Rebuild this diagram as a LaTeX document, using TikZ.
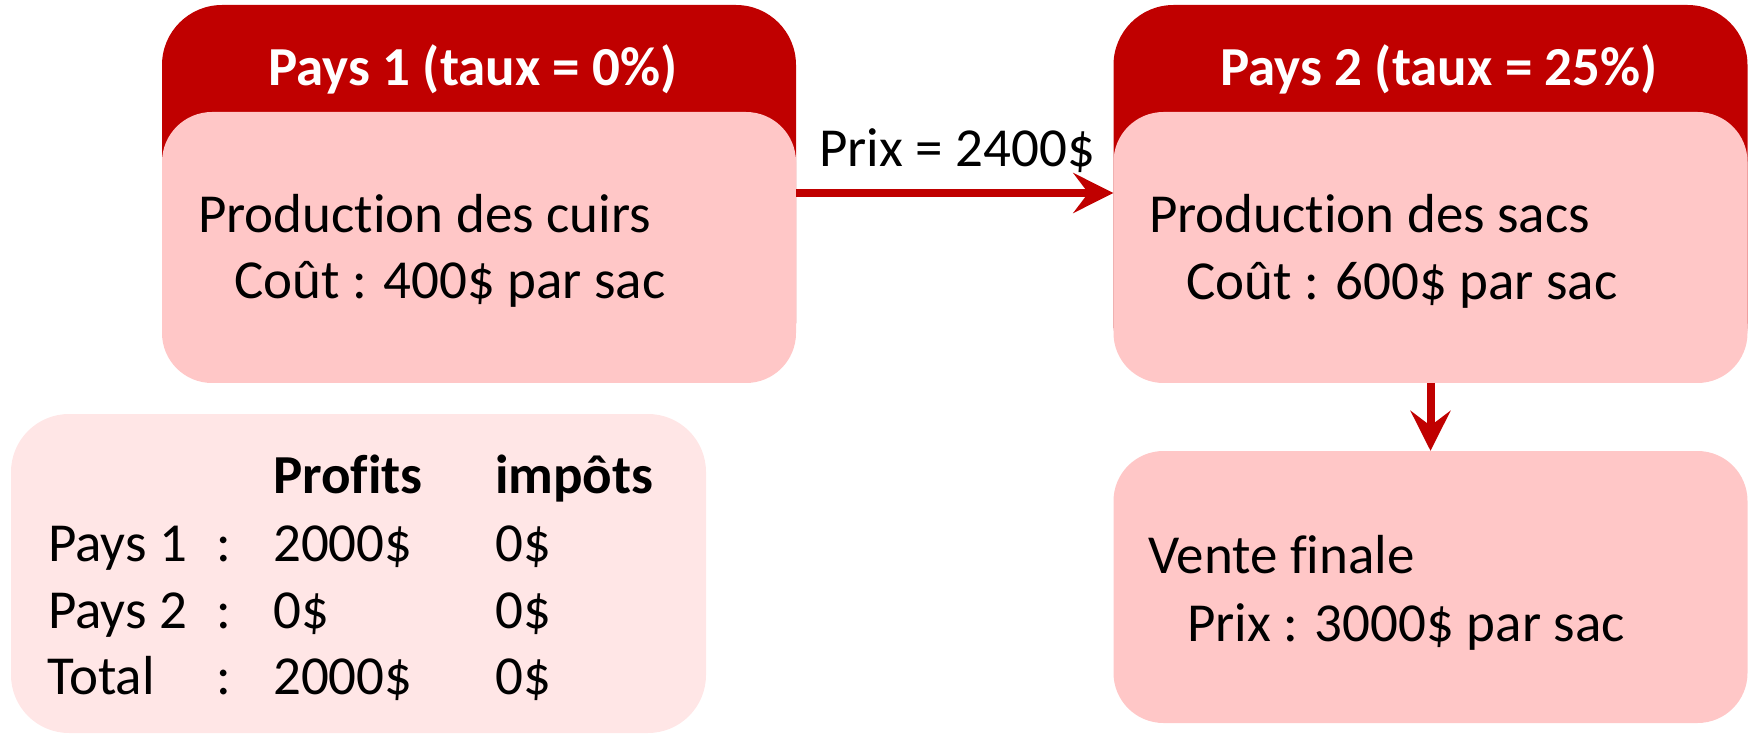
\documentclass[tikz,border=0pt]{standalone}
\usepackage{fontspec}
\setmainfont{Carlito}[Ligatures=NoCommon,RawFeature={-liga;-clig;-dlig}]
\usetikzlibrary{arrows.meta}
\definecolor{hdred}{RGB}{192,0,0}
\definecolor{bodypink}{RGB}{255,199,199}
\definecolor{tabpink}{RGB}{255,230,230}
\begin{document}
\begin{tikzpicture}[x=1pt,y=-1pt,
  hdbox/.style={rectangle, fill=hdred, draw=none, rounded corners=60pt, inner sep=0pt, minimum width=634pt, minimum height=378pt},
  bodybox/.style={rectangle, fill=bodypink, draw=none, rounded corners=50pt, inner sep=0pt, minimum width=634pt, minimum height=271pt},
  tabbox/.style={rectangle, fill=tabpink, draw=none, rounded corners=58pt, inner sep=0pt, minimum width=695pt, minimum height=319pt},
  txt/.style={anchor=base west, inner sep=0pt, font=\fontsize{55}{66}\selectfont},
  boldtxt/.style={txt, font=\fontsize{55}{66}\selectfont\bfseries},
  titletxt/.style={anchor=base, inner sep=0pt, text=white, font=\fontsize{55}{66}\selectfont\bfseries},
  conn/.style={draw=hdred, line width=8pt, -{Stealth[length=40pt,width=40pt,inset=15pt]}}
]
\useasboundingbox (0,0) rectangle (1749,735);

% boxes
\node[hdbox] (h1) at (479,194) {};
\node[bodybox] (b1) at (479,247.5) {};
\node[hdbox] (h2) at (1430.5,194) {};
\node[bodybox] (b2) at (1430.5,247.5) {};
\node[bodybox, minimum height=272pt] (v) at (1430.5,587) {};
\node[tabbox] (tab) at (358.5,573.5) {};

% titles
\node[titletxt] (t1) at (473,86) {Pays 1 (taux = 0\%)};
\node[titletxt] (t2) at (1439,86) {Pays 2 (taux = 25\%)};

% box texts
\node[txt] (b1a) at (198,233) {Production des cuirs};
\node[txt] (b1b) at (234,299) {Coût : 400\$ par sac};
\node[txt] (b2a) at (1149,233) {Production des sacs};
\node[txt] (b2b) at (1186,300) {Coût : 600\$ par sac};
\node[txt] (va) at (1148,573) {Vente finale};
\node[txt] (vb) at (1187,641) {Prix : 3000\$ par sac};
\node[txt] (prix) at (819,167) {Prix = 2400\$};

% table
\node[boldtxt] (th1) at (273,493) {Profits};
\node[boldtxt] (th2) at (495,493) {impôts};
\node[txt] (r1a) at (48,561) {Pays 1};
\node[txt] (r1c) at (216,561) {:};
\node[txt] (r1b) at (273,561) {2000\$};
\node[txt] (r1d) at (495,561) {0\$};
\node[txt] (r2a) at (48,628) {Pays 2};
\node[txt] (r2c) at (216,628) {:};
\node[txt] (r2b) at (273,628) {0\$};
\node[txt] (r2d) at (495,628) {0\$};
\node[txt] (r3a) at (47,694) {Total};
\node[txt] (r3c) at (216,694) {:};
\node[txt] (r3b) at (273,694) {2000\$};
\node[txt] (r3d) at (495,694) {0\$};

% connectors
\coordinate (ay) at (0,193);
\draw[conn] (b1.east |- ay) -- (b2.west |- ay);
\draw[conn] (b2.south) -- (v.north);
\end{tikzpicture}
\end{document}
